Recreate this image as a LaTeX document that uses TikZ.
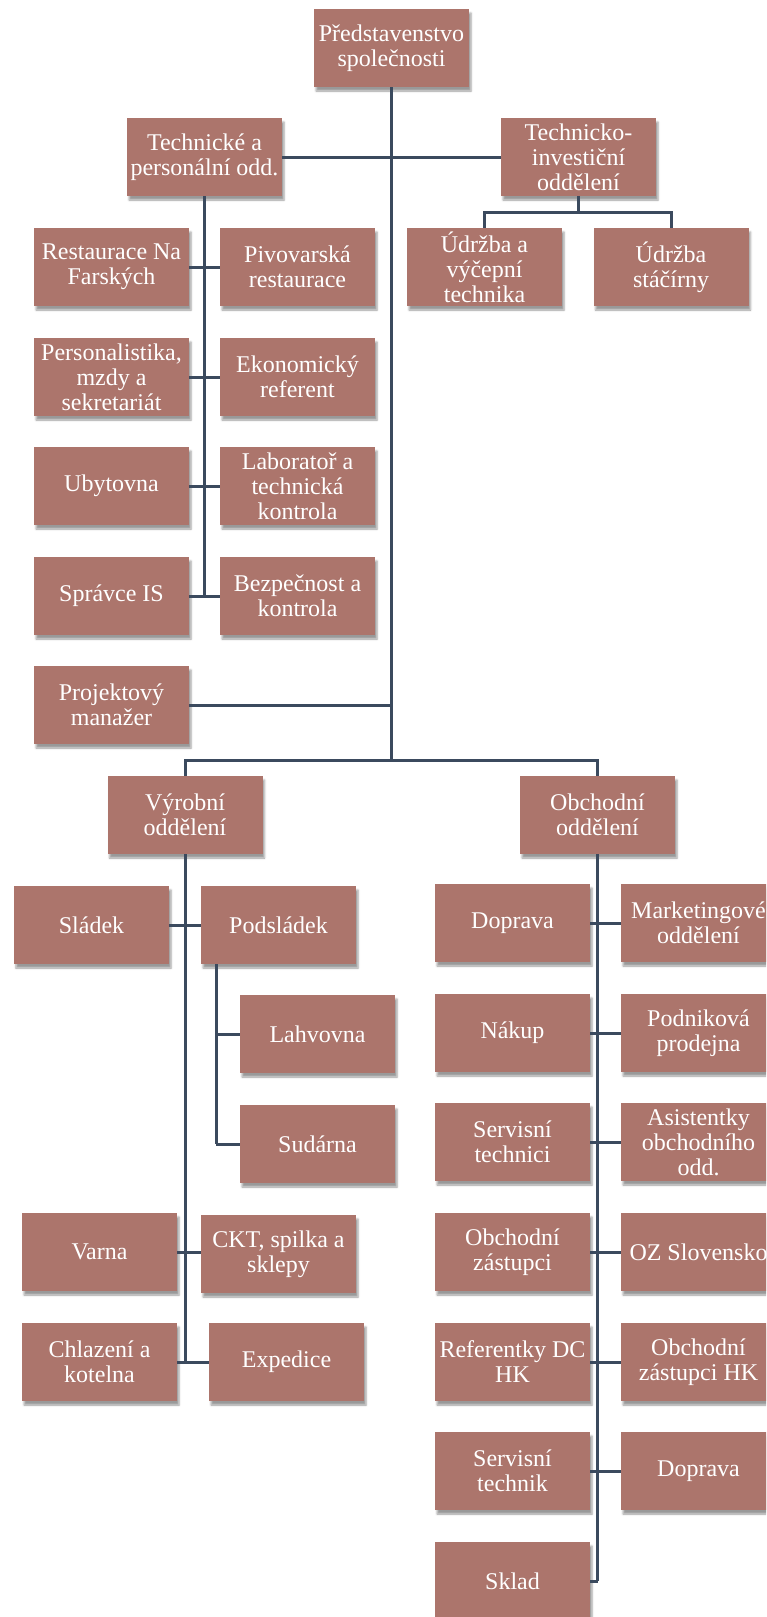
\documentclass[tikz,border=0pt]{standalone}
\usepackage{fontspec}
\setmainfont{Liberation Serif}
\usetikzlibrary{shadows.blur}
\definecolor{boxc}{HTML}{AC756C}
\definecolor{linec}{HTML}{3B4A5E}
\tikzset{
  box/.style={fill=boxc, draw=none, minimum width=155pt, minimum height=78pt, inner sep=0pt,
    text=white, align=center, font=\fontsize{24}{25}\selectfont,
    blur shadow={shadow xshift=2pt, shadow yshift=-4pt, shadow blur radius=2pt, shadow opacity=40}},
  conn/.style={draw=linec, line width=3pt}
}
\begin{document}
\begin{tikzpicture}[x=1pt,y=-1pt]
\useasboundingbox (0,0) rectangle (766,1617);
\clip (0,0) rectangle (766,1617);
% top
\node[box] (root) at (391.5,48) {Představenstvo\\společnosti};
\node[box] (tp) at (204.5,157) {Technické a\\personální odd.};
\node[box] (ti) at (578.5,157) {Technicko-\\investiční\\oddělení};
\node[box] (rest) at (111.5,267) {Restaurace Na\\Farských};
\node[box] (piv) at (297.5,267) {Pivovarská\\restaurace};
\node[box] (udr1) at (484.5,267) {Údržba a\\výčepní\\technika};
\node[box] (udr2) at (671,267) {Údržba\\stáčírny};
\node[box] (pers) at (111.5,377) {Personalistika,\\mzdy a\\sekretariát};
\node[box] (eko) at (297.5,377) {Ekonomický\\referent};
\node[box] (uby) at (111.5,486) {Ubytovna};
\node[box] (lab) at (297.5,486) {Laboratoř a\\technická\\kontrola};
\node[box] (spr) at (111.5,596) {Správce IS};
\node[box] (bez) at (297.5,596) {Bezpečnost a\\kontrola};
\node[box] (proj) at (111.5,705) {Projektový\\manažer};
% production
\node[box] (vyr) at (185,815) {Výrobní\\oddělení};
\node[box] (sla) at (91.5,925) {Sládek};
\node[box] (pods) at (278.5,925) {Podsládek};
\node[box] (lahv) at (317.5,1034) {Lahvovna};
\node[box] (sud) at (317.5,1144) {Sudárna};
\node[box] (var) at (99.5,1252) {Varna};
\node[box] (ckt) at (278.5,1254) {CKT, spilka a\\sklepy};
\node[box] (chl) at (99.5,1362) {Chlazení a\\kotelna};
\node[box] (exp) at (286.5,1362) {Expedice};
% commerce
\node[box] (obch) at (597.5,815) {Obchodní\\oddělení};
\node[box] (dop) at (512.5,923) {Doprava};
\node[box] (mkt) at (698.5,923) {Marketingové\\oddělení};
\node[box] (nak) at (512.5,1033) {Nákup};
\node[box] (podn) at (698.5,1033) {Podniková\\prodejna};
\node[box] (serv) at (512.5,1142) {Servisní\\technici};
\node[box] (asis) at (698.5,1142) {Asistentky\\obchodního\\odd.};
\node[box] (oz) at (512.5,1252) {Obchodní\\zástupci};
\node[box] (ozs) at (698.5,1252) {OZ Slovensko};
\node[box] (ref) at (512.5,1362) {Referentky DC\\HK};
\node[box] (ozhk) at (698.5,1362) {Obchodní\\zástupci HK};
\node[box] (st) at (512.5,1471) {Servisní\\technik};
\node[box] (dop2) at (698.5,1471) {Doprava};
\node[box] (skl) at (512.5,1581) {Sklad};
% coordinates
\coordinate (mainH) at (391.5,760);
\coordinate (tiH) at (578.5,212);
\coordinate (projE) at (391.5,705);
\coordinate (tpEnd) at (204.5,596);
\coordinate (vyrEnd) at (185,1362);
\coordinate (podsEnd) at (216,1144);
\coordinate (obchEnd) at (597.5,1581);
% connectors
\draw[conn] (root.south) -- (mainH);
\draw[conn] (tp.east) -- (ti.west);
\draw[conn] (tp.south) -- (tpEnd);
\draw[conn] (rest.east) -- (piv.west);
\draw[conn] (pers.east) -- (eko.west);
\draw[conn] (uby.east) -- (lab.west);
\draw[conn] (spr.east) -- (bez.west);
\draw[conn] (proj.east) -- (projE);
\draw[conn] (ti.south) -- (tiH);
\draw[conn] (udr1.north) |- (tiH) -| (udr2.north);
\draw[conn] (vyr.north) |- (mainH) -| (obch.north);
\draw[conn] (vyr.south) -- (vyrEnd);
\draw[conn] (sla.east) -- (pods.west);
\draw[conn] (pods.south -| podsEnd) -- (podsEnd);
\draw[conn] (lahv.west) -- (lahv.west -| podsEnd);
\draw[conn] (sud.west) -- (podsEnd);
\draw[conn] (var.east) -- (var.east -| ckt.west);
\draw[conn] (chl.east) -- (exp.west);
\draw[conn] (obch.south) -- (obchEnd);
\draw[conn] (dop.east) -- (mkt.west);
\draw[conn] (nak.east) -- (podn.west);
\draw[conn] (serv.east) -- (asis.west);
\draw[conn] (oz.east) -- (ozs.west);
\draw[conn] (ref.east) -- (ozhk.west);
\draw[conn] (st.east) -- (dop2.west);
\draw[conn] (skl.east) -- (obchEnd);
\end{tikzpicture}
\end{document}
